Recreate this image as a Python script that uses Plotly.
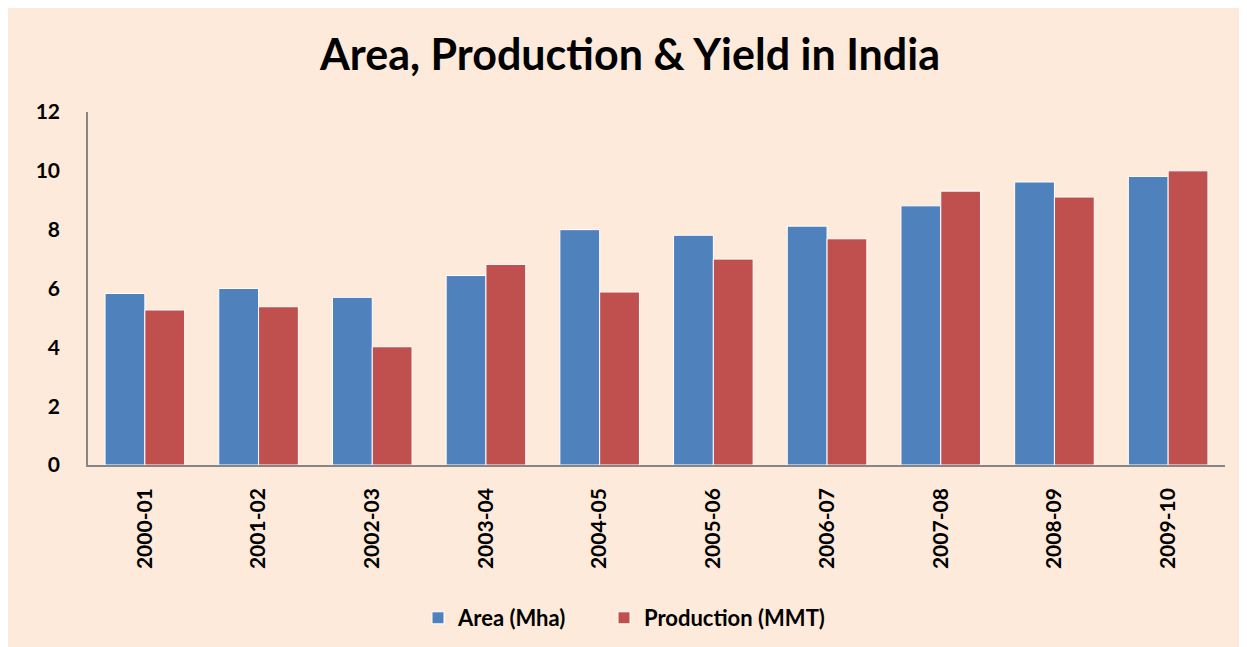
import plotly.graph_objects as go

years = ["2000-01", "2001-02", "2002-03", "2003-04", "2004-05",
         "2005-06", "2006-07", "2007-08", "2008-09", "2009-10"]
area = [5.83, 6.0, 5.70, 6.44, 8.0, 7.81, 8.12, 8.81, 9.62, 9.81]
production = [5.27, 5.38, 4.02, 6.82, 5.88, 7.0, 7.69, 9.31, 9.11, 10.0]
y_ticks = [0, 2, 4, 6, 8, 10, 12]

W, H = 1247, 647
L, R, T, B = 80, 30, 104, 190
pw, ph = W - L - R, H - T - B

font = "Lato, 'Open Sans', sans-serif"

fig = go.Figure()
fig.add_trace(go.Bar(name="Area (Mha)", x=years, y=area, legend="legend",
                     marker=dict(color="#4F81BD", line=dict(color="#FFFFFF", width=1))))
fig.add_trace(go.Bar(name="Production (MMT)", x=years, y=production, legend="legend2",
                     marker=dict(color="#C0504D", line=dict(color="#FFFFFF", width=1))))

def px2x(px):
    return (px - L) / pw

def py2y(py):
    return (H - B - py) / ph

leg_common = dict(orientation="h", xanchor="left", y=py2y(610), yanchor="middle",
                  font=dict(size=22, family=font, color="#000000", weight="bold"),
                  itemwidth=30, bgcolor="rgba(0,0,0,0)")

fig.update_layout(
    width=W, height=H,
    margin=dict(l=L, r=R, t=T, b=B, pad=0),
    paper_bgcolor="#FDEADA",
    plot_bgcolor="rgba(0,0,0,0)",
    barmode="group", bargap=0.3, bargroupgap=0,
    font=dict(family=font, color="#000000"),
    title=dict(text="<b>Area, Production & Yield in India</b>",
               x=622 / W, xref="container", xanchor="center",
               y=1 - 47 / H, yref="container", yanchor="middle",
               font=dict(size=43, family=font, color="#000000")),
    legend=dict(x=px2x(410), **leg_common),
    legend2=dict(x=px2x(596), **leg_common),
    showlegend=True,
)

fig.update_xaxes(
    type="category",
    showline=True, linecolor="#868686", linewidth=1.5,
    showgrid=False, tickangle=-90,
    ticks="outside", ticklen=13, tickcolor="rgba(0,0,0,0)",
    tickfont=dict(size=21, family=font, color="#000000", weight="bold"),
)
fig.update_yaxes(
    range=[0, 12], tickvals=y_ticks,
    showline=True, linecolor="#868686", linewidth=1.5,
    showgrid=False, zeroline=False,
    ticks="outside", ticklen=22, tickcolor="rgba(0,0,0,0)",
    tickfont=dict(size=21, family=font, color="#000000", weight="bold"),
)

fig.write_html("out.html")
